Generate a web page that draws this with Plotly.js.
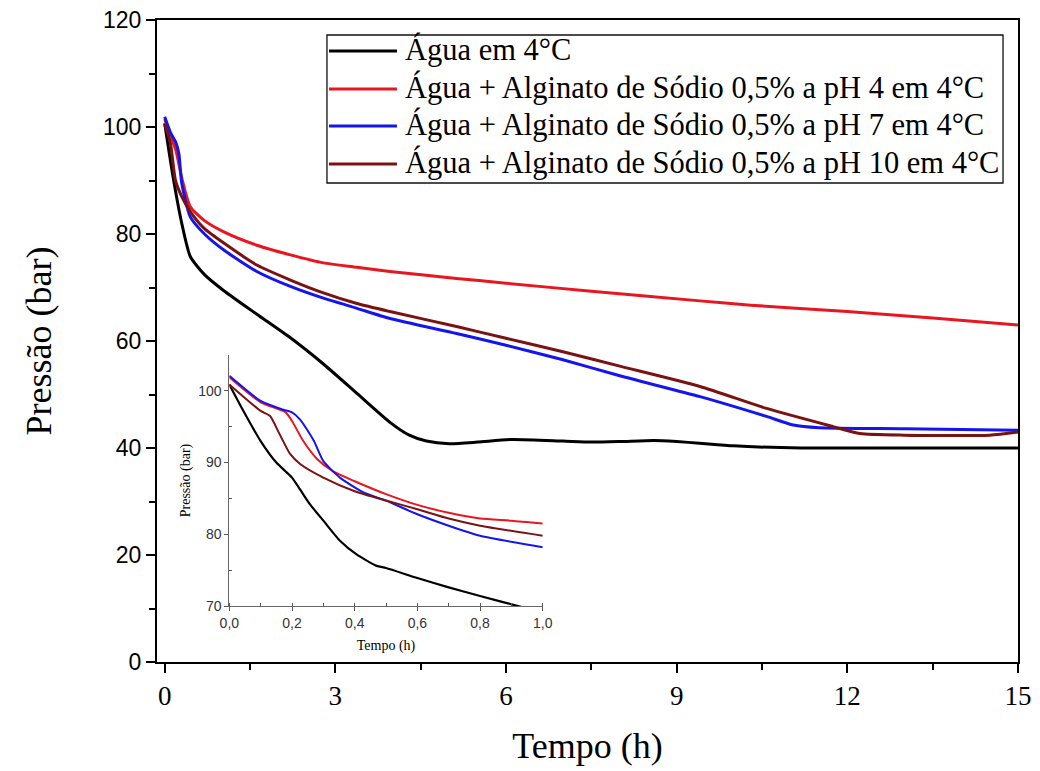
<!DOCTYPE html>
<html>
<head>
<meta charset="utf-8">
<script src="https://cdn.plot.ly/plotly-3.0.1.min.js"></script>
<style>html,body{margin:0;padding:0;background:#fff}#chart{width:1040px;height:771px}</style>
</head>
<body>
<div id="chart"></div>
<script>
// ---- Data ----
const seriesNames = [
  "Água em 4°C",
  "Água + Alginato de Sódio 0,5% a pH 4 em 4°C",
  "Água + Alginato de Sódio 0,5% a pH 7 em 4°C",
  "Água + Alginato de Sódio 0,5% a pH 10 em 4°C"
];
const seriesColors = ["#000000", "#e8161e", "#1414f0", "#7a1212"];

// Main chart (Tempo in h, Pressão in bar)
const tBlack = [0, 0.15, 0.3, 0.45, 0.7, 1.04, 1.62, 2.21, 2.79, 3.38, 3.96, 4.3, 4.6, 5.0, 5.5, 6.1, 7, 7.5, 8, 8.6, 9.0, 9.4, 10, 11.2, 13, 15];
const pBlack = [100.7, 90.5, 82, 75.8, 72.4, 69.4, 65.0, 60.6, 55.7, 50.2, 44.8, 42.4, 41.3, 40.8, 41.1, 41.6, 41.3, 41.1, 41.2, 41.4, 41.2, 40.9, 40.4, 40.0, 40.0, 40.0];

const tRed = [0, 0.1, 0.2, 0.3, 0.45, 0.7, 1.04, 1.62, 2.21, 2.79, 3.38, 3.96, 5.13, 6, 7.5, 9.41, 10.3, 12, 13.5, 15];
const pRed = [101.5, 98.5, 95.5, 90.5, 85.1, 82.5, 80.4, 77.9, 76.1, 74.6, 73.8, 73.0, 71.7, 70.8, 69.3, 67.5, 66.7, 65.5, 64.3, 63.0];

const tBlue = [0, 0.1, 0.2, 0.25, 0.3, 0.45, 0.7, 1.04, 1.62, 2.21, 2.79, 3.38, 3.96, 5.13, 6, 7, 8, 9.41, 10.58, 11.05, 11.5, 13, 15];
const pBlue = [101.9, 99, 97, 95, 89.5, 83.2, 80, 77.0, 73.0, 70.2, 68.0, 66.1, 64.2, 61.4, 59.2, 56.5, 53.5, 49.6, 45.9, 44.3, 43.8, 43.6, 43.3];

const tBrown = [0, 0.1, 0.19, 0.3, 0.45, 0.7, 1.04, 1.62, 2.21, 2.79, 3.38, 3.96, 5.13, 6, 7, 8, 9.41, 10.58, 11.75, 12.22, 13, 14.5, 15];
const pBrown = [100.5, 97, 90, 87, 84.2, 81, 78.3, 74.2, 71.4, 69.0, 67.0, 65.5, 62.7, 60.5, 58, 55.3, 51.5, 47.4, 44.0, 42.7, 42.4, 42.4, 43.0];

// Inset (first hour)
const tInBlack = [0, 0.045, 0.1, 0.15, 0.2, 0.225, 0.257, 0.3, 0.353, 0.406, 0.47, 0.5, 0.6, 0.7, 0.8, 0.93, 1.0];
const pInBlack = [100.9, 97.2, 93.0, 90.0, 87.9, 86.3, 84.2, 81.9, 79.1, 77.2, 75.6, 75.3, 73.9, 72.6, 71.4, 69.9, 69.2];

const tInRed = [0, 0.1, 0.18, 0.2, 0.236, 0.28, 0.33, 0.4, 0.5, 0.6, 0.7, 0.8, 0.9, 1.0];
const pInRed = [101.9, 98.4, 97.0, 95.8, 93.0, 90.5, 88.8, 87.4, 85.6, 84.1, 83.0, 82.2, 81.9, 81.5];

const tInBlue = [0, 0.1, 0.17, 0.2, 0.226, 0.27, 0.3, 0.353, 0.43, 0.5, 0.6, 0.7, 0.8, 1.0];
const pInBlue = [102.1, 98.6, 97.4, 97.0, 96.0, 93.0, 90.2, 87.9, 85.8, 84.7, 82.8, 81.2, 79.8, 78.2];

const tInBrown = [0, 0.1, 0.13, 0.16, 0.194, 0.226, 0.3, 0.4, 0.5, 0.6, 0.7, 0.8, 1.0];
const pInBrown = [100.9, 97.2, 96.5, 94.0, 91.2, 89.8, 87.9, 86.0, 84.7, 83.5, 82.2, 81.2, 79.8];

const mainT = [tBlack, tRed, tBlue, tBrown];
const mainP = [pBlack, pRed, pBlue, pBrown];
const inT = [tInBlack, tInRed, tInBlue, tInBrown];
const inP = [pInBlack, pInRed, pInBlue, pInBrown];

const traces = [];
for (let i = 0; i < 4; i++) {
  traces.push({
    x: mainT[i], y: mainP[i], type: 'scatter', mode: 'lines',
    name: seriesNames[i], line: {color: seriesColors[i], width: 3, shape: 'spline', smoothing: 0.6},
    xaxis: 'x', yaxis: 'y', showlegend: false, hoverinfo: 'skip'
  });
}
for (let i = 0; i < 4; i++) {
  traces.push({
    x: inT[i], y: inP[i], type: 'scatter', mode: 'lines',
    name: seriesNames[i], line: {color: seriesColors[i], width: i === 0 ? 2.2 : 2, shape: 'spline', smoothing: 0.6},
    xaxis: 'x2', yaxis: 'y2', showlegend: false, hoverinfo: 'skip'
  });
}

const serif = '"Liberation Serif", "DejaVu Serif", serif';
const sans = '"Liberation Sans", Arial, sans-serif';

// Legend drawn as a framed box with line samples and text (paper coordinates)
const legBox = {x0: 0.1974, x1: 0.9826, y0: 0.7461, y1: 0.9766};
const legLineX = [0.1998, 0.2787];
const legTextX = 0.2857;
const legRowY = [0.9517, 0.8925, 0.8349, 0.7757];

const shapes = [{
  type: 'rect', xref: 'paper', yref: 'paper',
  x0: legBox.x0, x1: legBox.x1, y0: legBox.y0, y1: legBox.y1,
  line: {color: '#111', width: 1.3}, fillcolor: '#fff', layer: 'above'
}];
const annotations = [];
for (let i = 0; i < 4; i++) {
  shapes.push({
    type: 'line', xref: 'paper', yref: 'paper',
    x0: legLineX[0], x1: legLineX[1], y0: legRowY[i], y1: legRowY[i],
    line: {color: seriesColors[i], width: 3}, layer: 'above'
  });
  annotations.push({
    xref: 'paper', yref: 'paper', x: legTextX, y: legRowY[i] + 0.003,
    xanchor: 'left', yanchor: 'middle', showarrow: false,
    text: seriesNames[i], font: {family: serif, size: 30.5, color: '#000'}
  });
}

const layout = {
  width: 1040, height: 771,
  margin: {l: 157, r: 22, t: 20, b: 109},
  paper_bgcolor: '#fff', plot_bgcolor: 'rgba(0,0,0,0)',
  separators: ',.',
  showlegend: false,
  shapes: shapes,
  annotations: annotations,
  xaxis: {
    range: [-0.135, 15], tickvals: [0, 3, 6, 9, 12, 15],
    ticks: 'outside', ticklen: 9, tickwidth: 2, tickcolor: '#000',
    minor: {tickvals: [1.5, 4.5, 7.5, 10.5, 13.5], ticks: 'outside', ticklen: 6, tickwidth: 2, tickcolor: '#000'},
    showline: true, linecolor: '#000', linewidth: 2, mirror: true,
    showgrid: false, zeroline: false,
    tickfont: {family: serif, size: 27, color: '#000'},
    title: {text: 'Tempo (h)', font: {family: serif, size: 36, color: '#000'}, standoff: 22}
  },
  yaxis: {
    range: [0, 120], dtick: 20, tick0: 0,
    ticks: 'outside', ticklen: 9, tickwidth: 2, tickcolor: '#000',
    minor: {dtick: 10, ticks: 'outside', ticklen: 6, tickwidth: 2, tickcolor: '#000'},
    showline: true, linecolor: '#000', linewidth: 2, mirror: true,
    showgrid: false, zeroline: false,
    tickfont: {family: sans, size: 23, color: '#000'},
    title: {text: 'Pressão (bar)', font: {family: serif, size: 36, color: '#000'}, standoff: 40}
  },
  xaxis2: {
    domain: [0.0840, 0.4480], anchor: 'y2', range: [0, 1], dtick: 0.2, tick0: 0, tickformat: '.1f',
    ticks: 'outside', ticklen: 4, tickwidth: 1, tickcolor: '#555',
    minor: {dtick: 0.1, ticks: 'inside', ticklen: 3, tickwidth: 1, tickcolor: '#555'},
    showline: true, linecolor: '#666', linewidth: 1, mirror: false,
    showgrid: false, zeroline: false,
    tickfont: {family: sans, size: 14, color: '#333'},
    title: {text: 'Tempo (h)', font: {family: serif, size: 14, color: '#000'}, standoff: 10}
  },
  yaxis2: {
    domain: [0.0872, 0.4782], anchor: 'x2', range: [70, 105], tickvals: [70, 80, 90, 100],
    ticks: 'outside', ticklen: 4, tickwidth: 1, tickcolor: '#555',
    minor: {tickvals: [75, 85, 95], ticks: 'inside', ticklen: 3, tickwidth: 1, tickcolor: '#555'},
    showline: true, linecolor: '#666', linewidth: 1, mirror: false,
    showgrid: false, zeroline: false,
    tickfont: {family: sans, size: 14, color: '#333'},
    title: {text: 'Pressão (bar)', font: {family: serif, size: 14, color: '#000'}, standoff: 4}
  }
};

Plotly.newPlot('chart', traces, layout, {staticPlot: true, displayModeBar: false});
</script>
</body>
</html>
